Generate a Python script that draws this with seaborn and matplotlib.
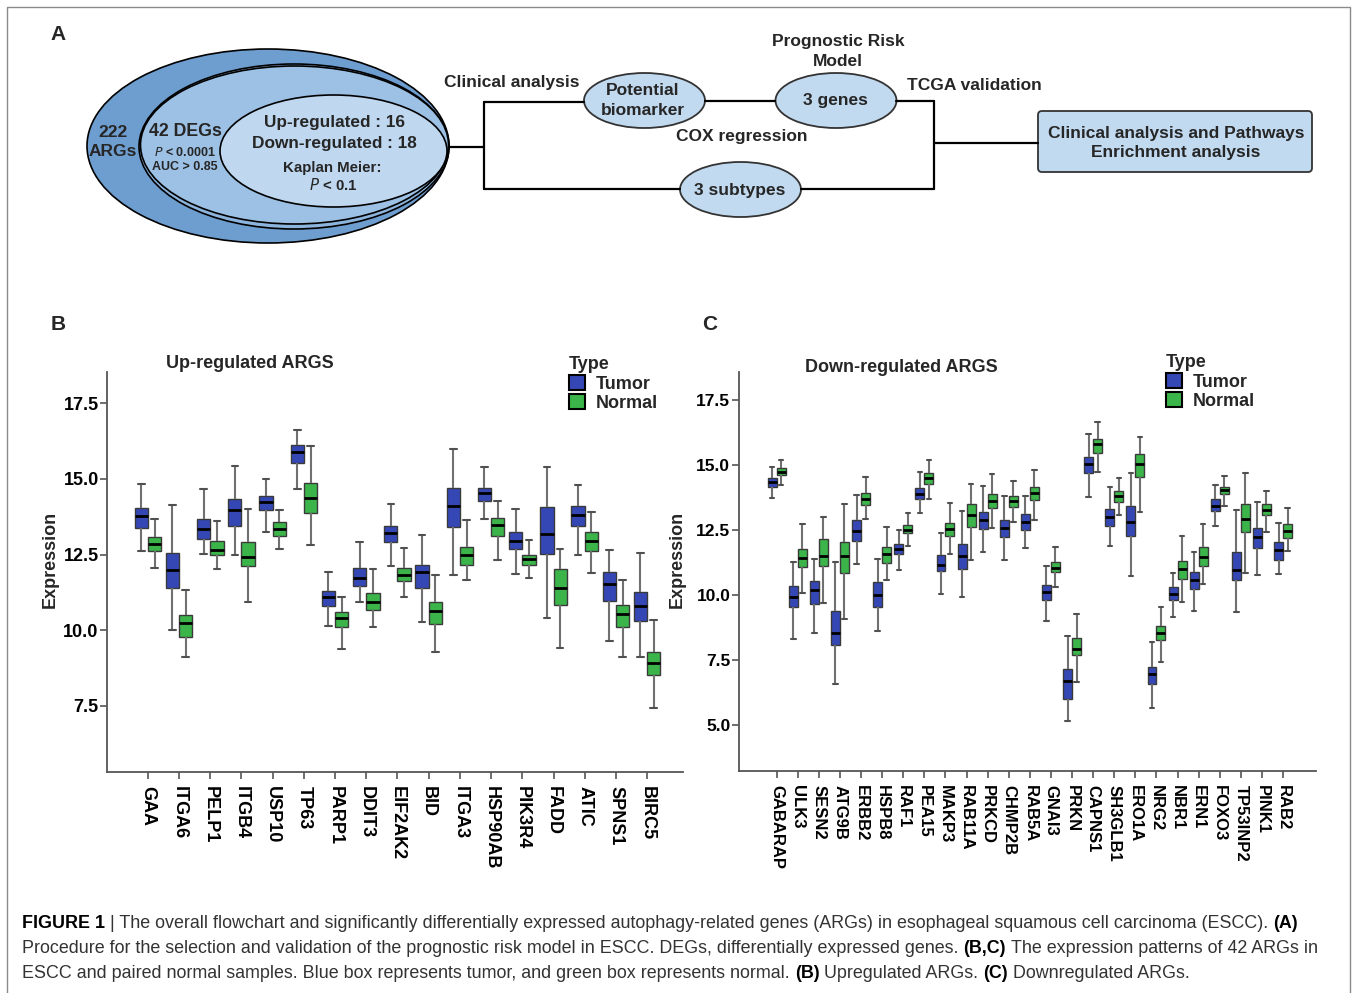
import numpy as np
import pandas as pd
import matplotlib
matplotlib.use("Agg")
import matplotlib.pyplot as plt
import seaborn as sns
from matplotlib.patches import Ellipse, FancyBboxPatch, Rectangle, Patch
from matplotlib.font_manager import FontProperties

# ---------------- data (each box: [min, Q1, median, Q3, max]) ----------------
up_genes = ["GAA", "ITGA6", "PELP1", "ITGB4", "USP10", "TP63", "PARP1", "DDIT3",
            "EIF2AK2", "BID", "ITGA3", "HSP90AB", "PIK3R4", "FADD", "ATIC", "SPNS1", "BIRC5"]
up_tumor = [
    [12.61, 13.37, 13.78, 14.03, 14.84],
    [10.01, 11.41, 11.98, 12.55, 14.15],
    [12.52, 13.01, 13.35, 13.67, 14.65],
    [12.48, 13.46, 13.97, 14.32, 15.43],
    [13.24, 13.96, 14.24, 14.43, 14.99],
    [14.68, 15.51, 15.89, 16.11, 16.60],
    [10.15, 10.81, 11.11, 11.30, 11.94],
    [10.92, 11.47, 11.74, 12.07, 12.93],
    [12.13, 12.91, 13.21, 13.43, 14.18],
    [10.29, 11.39, 11.91, 12.17, 13.15],
    [11.82, 13.40, 14.11, 14.71, 16.00],
    [13.68, 14.26, 14.52, 14.71, 15.40],
    [11.85, 12.67, 12.96, 13.25, 14.00],
    [10.39, 12.51, 13.18, 14.08, 15.40],
    [12.48, 13.45, 13.82, 14.09, 14.81],
    [9.64, 10.98, 11.52, 11.93, 12.66],
    [9.12, 10.32, 10.81, 11.28, 12.55],
]
up_normal = [
    [12.05, 12.61, 12.85, 13.07, 13.68],
    [9.13, 9.77, 10.25, 10.51, 11.34],
    [12.04, 12.49, 12.66, 12.94, 13.61],
    [10.95, 12.11, 12.43, 12.91, 14.01],
    [12.67, 13.13, 13.35, 13.56, 13.97],
    [12.83, 13.87, 14.37, 14.88, 16.09],
    [9.39, 10.11, 10.40, 10.60, 11.11],
    [10.12, 10.67, 10.92, 11.23, 12.02],
    [11.11, 11.62, 11.84, 12.05, 12.72],
    [9.27, 10.20, 10.65, 10.92, 11.81],
    [11.67, 12.14, 12.48, 12.76, 13.64],
    [12.31, 13.13, 13.49, 13.72, 14.26],
    [11.72, 12.17, 12.35, 12.50, 12.98],
    [9.40, 10.82, 11.41, 12.02, 12.69],
    [11.89, 12.61, 12.95, 13.23, 13.90],
    [9.11, 10.10, 10.54, 10.82, 11.67],
    [7.44, 8.52, 8.91, 9.28, 10.34],
]

down_genes = ["GABARAP", "ULK3", "SESN2", "ATG9B", "ERBB2", "HSPB8", "RAF1", "PEA15",
              "MAKP3", "RAB11A", "PRKCD", "CHMP2B", "RAB5A", "GNAI3", "PRKN", "CAPNS1",
              "SH3GLB1", "ERO1A", "NRG2", "NBR1", "ERN1", "FOXO3", "TP53INP2", "PINK1", "RAB2"]
down_tumor = [
    [13.71, 14.16, 14.33, 14.48, 14.93],
    [8.30, 9.54, 9.92, 10.35, 11.28],
    [8.52, 9.63, 10.17, 10.54, 11.38],
    [6.55, 8.08, 8.55, 9.36, 11.28],
    [11.20, 12.06, 12.46, 12.88, 13.83],
    [8.62, 9.52, 10.01, 10.48, 11.37],
    [10.95, 11.57, 11.78, 11.97, 12.48],
    [13.15, 13.68, 13.89, 14.12, 14.73],
    [10.03, 10.90, 11.16, 11.53, 12.39],
    [9.92, 11.01, 11.48, 11.96, 13.24],
    [11.65, 12.52, 12.88, 13.20, 14.21],
    [11.34, 12.21, 12.56, 12.90, 13.80],
    [11.80, 12.51, 12.80, 13.10, 13.82],
    [9.00, 9.80, 10.11, 10.38, 11.13],
    [5.14, 5.98, 6.67, 7.14, 8.41],
    [13.77, 14.68, 15.05, 15.32, 16.19],
    [11.87, 12.65, 12.98, 13.29, 14.16],
    [10.74, 12.26, 12.82, 13.42, 14.70],
    [5.64, 6.57, 6.96, 7.23, 8.17],
    [9.13, 9.81, 10.02, 10.29, 10.85],
    [9.39, 10.24, 10.57, 10.88, 11.66],
    [12.65, 13.24, 13.44, 13.68, 14.24],
    [9.34, 10.56, 10.95, 11.65, 13.28],
    [10.76, 11.80, 12.24, 12.56, 13.57],
    [10.79, 11.34, 11.72, 12.05, 12.78],
]
down_normal = [
    [14.24, 14.60, 14.74, 14.88, 15.18],
    [10.06, 11.07, 11.42, 11.75, 12.74],
    [9.67, 11.10, 11.48, 12.15, 12.99],
    [9.08, 10.83, 11.51, 12.05, 13.50],
    [12.91, 13.47, 13.70, 13.93, 14.55],
    [10.57, 11.22, 11.56, 11.83, 12.61],
    [11.90, 12.37, 12.48, 12.69, 13.16],
    [13.68, 14.27, 14.51, 14.68, 15.18],
    [11.58, 12.26, 12.55, 12.78, 13.55],
    [11.33, 12.60, 13.07, 13.51, 14.28],
    [12.58, 13.35, 13.62, 13.88, 14.66],
    [12.80, 13.39, 13.61, 13.80, 14.38],
    [12.89, 13.64, 13.93, 14.16, 14.79],
    [10.29, 10.87, 11.03, 11.25, 11.84],
    [6.64, 7.67, 7.93, 8.32, 9.26],
    [14.73, 15.47, 15.79, 16.01, 16.64],
    [13.06, 13.56, 13.80, 13.98, 14.48],
    [13.20, 14.54, 15.05, 15.41, 16.09],
    [7.43, 8.26, 8.55, 8.81, 9.53],
    [9.72, 10.60, 10.98, 11.29, 12.25],
    [10.40, 11.11, 11.46, 11.84, 12.73],
    [13.43, 13.87, 14.02, 14.16, 14.57],
    [10.83, 12.43, 12.93, 13.50, 14.70],
    [12.41, 13.06, 13.28, 13.50, 14.00],
    [11.67, 12.17, 12.44, 12.74, 13.35],
]

types = ["Tumor", "Normal"]
up_yticks = [7.5, 10.0, 12.5, 15.0, 17.5]
down_yticks = [5.0, 7.5, 10.0, 12.5, 15.0, 17.5]

# ---------------- style ----------------
BLUE = "#3447b4"
GREEN = "#3bb54a"
sns.set_theme(style="ticks")
plt.rcParams["font.family"] = ["Liberation Sans", "DejaVu Sans"]

W, H = 1357, 993
fig = plt.figure(figsize=(W / 100, H / 100), dpi=100)
fig.patch.set_facecolor("white")

# overlay axes in pixel coordinates, drawn on top (transparent)
axA = fig.add_axes([0, 0, 1, 1], zorder=3)
axA.set_xlim(0, W)
axA.set_ylim(H, 0)
axA.axis("off")


def px_axes(l, t, r, b):
    return fig.add_axes([l / W, 1 - b / H, (r - l) / W, (b - t) / H], zorder=1)


axB = px_axes(107, 372, 683, 771.7)
axC = px_axes(738.7, 372, 1316, 770.7)


def draw_box(ax, genes, tumor, normal, xfs, yfs, ylim, yticks, xlim):
    rows = []
    for g, t, n in zip(genes, tumor, normal):
        for v in t:
            rows.append((g, "Tumor", v))
        for v in n:
            rows.append((g, "Normal", v))
    df = pd.DataFrame(rows, columns=["Gene", "Type", "Expression"])
    sns.boxplot(data=df, x="Gene", y="Expression", hue="Type", order=genes,
                hue_order=types, palette={"Tumor": BLUE, "Normal": GREEN},
                whis=(0, 100), width=0.85, gap=0, linecolor="#3a3a3a",
                linewidth=1.0, fliersize=0, saturation=1, legend=False, ax=ax,
                medianprops=dict(color="black", linewidth=2.0),
                whiskerprops=dict(color="#707070", linewidth=1.5),
                capprops=dict(color="#505050", linewidth=1.5))
    ax.set_xlim(*xlim)
    ax.set_ylim(*ylim)
    ax.set_yticks(yticks)
    ax.set_yticklabels([f"{v:.1f}" for v in yticks], fontsize=yfs, fontweight="bold")
    ax.set_xticks(range(len(genes)))
    ax.set_xticklabels(genes, rotation=-90, fontsize=xfs, fontweight="bold",
                       va="top", ha="center")
    ax.set_xlabel("")
    ax.set_ylabel("Expression", fontsize=13, fontweight="bold")
    for s in ["top", "right"]:
        ax.spines[s].set_visible(False)
    for s in ["left", "bottom"]:
        ax.spines[s].set_color("#555555")
        ax.spines[s].set_linewidth(1.3)
    ax.tick_params(axis="both", direction="out", length=5, width=1.2, color="#555555",
                   labelcolor="black")
    ax.tick_params(axis="y", pad=1)
    ax.tick_params(axis="x", pad=5)
    ax.set_facecolor("white")


draw_box(axB, up_genes, up_tumor, up_normal, 13, 13, (5.33, 18.53), up_yticks, (-1.31, 17.15))
draw_box(axC, down_genes, down_tumor, down_normal, 12, 12.5, (3.23, 18.58), down_yticks, (-1.8, 25.56))
axB.yaxis.set_label_coords(-0.083, 0.53)
axC.yaxis.set_label_coords(-0.091, 0.53)

fp_leg = FontProperties(family="Liberation Sans", weight="bold", size=13)
for ax, (lx, ly) in [(axB, (569, 356)), (axC, (1166, 354))]:
    handles = [Patch(facecolor=BLUE, edgecolor="black", linewidth=1.5, label="Tumor"),
               Patch(facecolor=GREEN, edgecolor="black", linewidth=1.5, label="Normal")]
    ax.legend(handles=handles, title="Type", loc="upper left",
              bbox_to_anchor=(lx / W, 1 - ly / H), bbox_transform=fig.transFigure,
              frameon=False, prop=fp_leg, title_fontproperties=fp_leg,
              handlelength=0.9, handleheight=0.9, handletextpad=0.6,
              labelspacing=0.1, borderpad=0, borderaxespad=0, alignment="left")

# ---------------- panel A (pixel coordinates) ----------------
axA.add_patch(Rectangle((7, 7), 1343, 1000, fill=False, edgecolor="#8a8a8a", linewidth=1.0))

for (cx, cy, w, h, col) in [(268, 146, 362, 194, "#6e9dcf"),
                            (294, 146.5, 310, 165, "#8cb4dd"),
                            (294.5, 145, 308, 158, "#9dc1e5"),
                            (333.5, 151, 227, 112, "#bfd8f0")]:
    axA.add_patch(Ellipse((cx, cy), w, h, facecolor=col, edgecolor="black", linewidth=1.2))

LW = 1.6
axA.plot([449, 484], [147, 147], color="black", lw=LW)
axA.plot([484, 484], [102, 189], color="black", lw=LW)
axA.plot([484, 584], [102, 102], color="black", lw=LW)
axA.plot([705, 775], [101, 101], color="black", lw=LW)
axA.plot([484, 680], [189, 189], color="black", lw=LW)
axA.plot([801, 934], [189, 189], color="black", lw=LW)
axA.plot([896, 934], [101, 101], color="black", lw=LW)
axA.plot([934, 934], [101, 189], color="black", lw=LW)
axA.plot([934, 1038], [143, 143], color="black", lw=LW)

SMALL = "#c2daf0"
for (cx, cy, w, h) in [(644.5, 100.5, 121, 55), (836, 100.5, 121, 55), (740.5, 189.5, 121, 55)]:
    axA.add_patch(Ellipse((cx, cy), w, h, facecolor=SMALL, edgecolor="#333333", linewidth=1.3))
axA.add_patch(FancyBboxPatch((1038, 111), 274, 61, boxstyle="round,pad=0,rounding_size=4",
                             facecolor=SMALL, edgecolor="#333333", linewidth=1.3))


def t(x, y, s, size=12.5, **kw):
    axA.text(x, y, s, fontsize=size, fontweight=kw.pop("weight", "bold"), ha="center",
             va="center", linespacing=1.4, **kw)


t(58, 35, "A", 15)
t(58, 325, "B", 15)
t(710, 325, "C", 15)
t(113, 142, "222\nARGs", 12.5)
t(185, 132, "42 DEGs", 12.8)
t(185, 152, r"$\it{P}$ < 0.0001", 9)
t(185, 167, "AUC > 0.85", 9)
t(334, 122.5, "Up-regulated : 16", 12.4)
t(334, 143.5, "Down-regulated : 18", 12.4)
t(332, 168, "Kaplan Meier:", 10.8)
t(333, 185, r"$\it{P}$ < 0.1", 10.8)
t(511.7, 82, "Clinical analysis", 12.5)
t(643, 100.5, "Potential\nbiomarker", 12.5)
t(741.7, 136.5, "COX regression", 12.5)
t(835, 100, "3 genes", 12.5)
t(838, 51.5, "Prognostic Risk\nModel", 12.5)
t(740, 190, "3 subtypes", 12.5)
t(974, 85, "TCGA validation", 12.5)
t(1176, 143, "Clinical analysis and Pathways\nEnrichment analysis", 12.5)

t(250, 364, "Up-regulated ARGS", 13)
t(901, 367, "Down-regulated ARGS", 13)

# ---------------- caption ----------------
CAP_FONT = ["Liberation Sans Narrow", "Liberation Sans", "DejaVu Sans"]
renderer = fig.canvas.get_renderer()
cap_lines = [
    [("FIGURE 1", True), (" | The overall flowchart and significantly differentially expressed autophagy-related genes (ARGs) in esophageal squamous cell carcinoma (ESCC). ", False), ("(A)", True)],
    [("Procedure for the selection and validation of the prognostic risk model in ESCC. DEGs, differentially expressed genes. ", False), ("(B,C)", True), (" The expression patterns of 42 ARGs in", False)],
    [("ESCC and paired normal samples. Blue box represents tumor, and green box represents normal. ", False), ("(B)", True), (" Upregulated ARGs. ", False), ("(C)", True), (" Downregulated ARGs.", False)],
]


def seg_width(s, bold, size):
    tt = axA.text(0, 0, s.strip(), fontsize=size, family=CAP_FONT,
                  fontweight="bold" if bold else "normal")
    w = tt.get_window_extent(renderer=renderer).width
    tt.remove()
    return w


def space_width(bold, size):
    return seg_width("a a", bold, size) - seg_width("aa", bold, size)


def line_width(segs, size):
    total = 0
    for s, b in segs:
        sw = space_width(b, size)
        if s.startswith(" "):
            total += sw
        total += seg_width(s, b, size)
        if s.endswith(" "):
            total += sw
    return total


base = 12.0
cap_size = base * 1300.0 / line_width(cap_lines[1], base)


def draw_line(x, y, segs, size):
    for s, b in segs:
        sw = space_width(b, size)
        if s.startswith(" "):
            x += sw
        tt = axA.text(x, y, s.strip(), fontsize=size, family=CAP_FONT,
                      fontweight="bold" if b else "normal", ha="left", va="baseline",
                      color="black" if b else "#333333")
        x += tt.get_window_extent(renderer=renderer).width
        if s.endswith(" "):
            x += sw


for i, segs in enumerate(cap_lines):
    draw_line(22, 928 + 25 * i, segs, cap_size)

fig.savefig("out.png", dpi=100, facecolor="white")
